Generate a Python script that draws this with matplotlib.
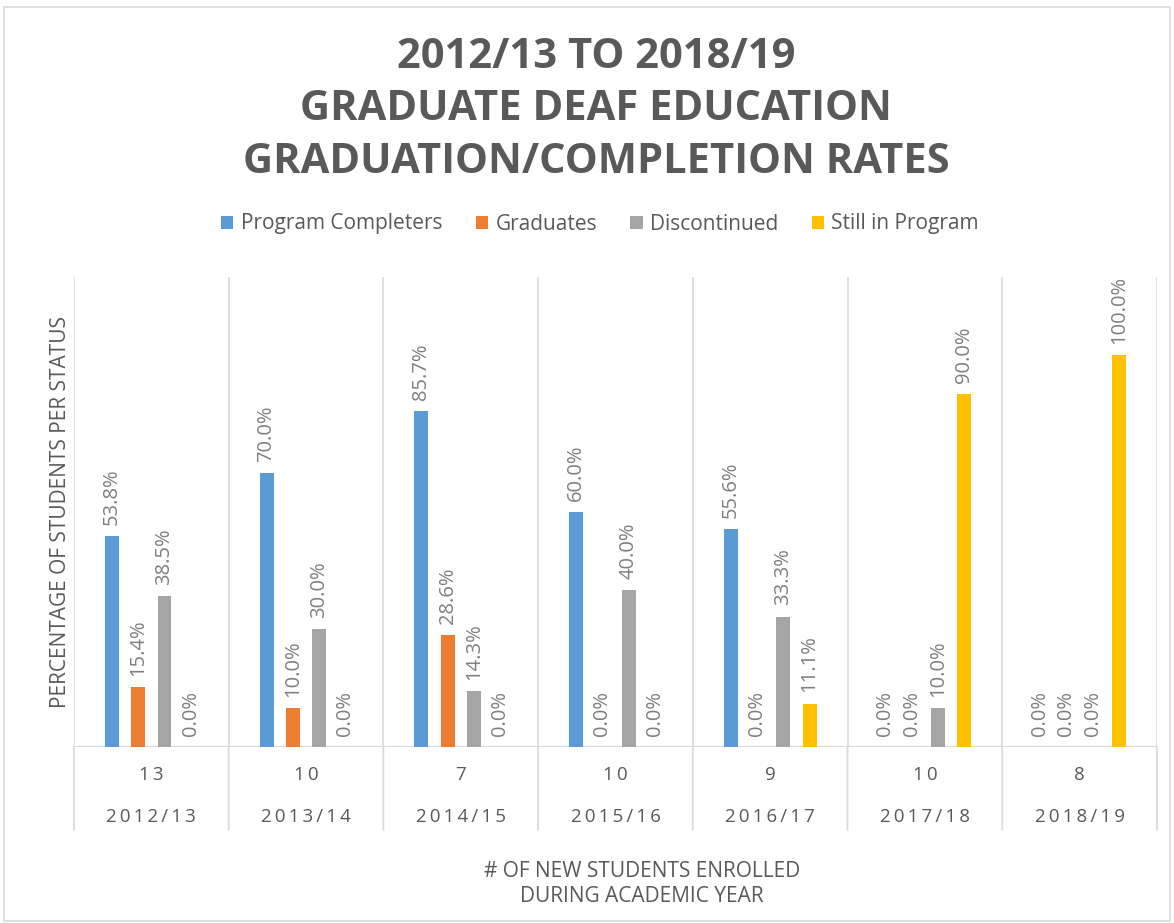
import matplotlib.pyplot as plt
from matplotlib.patches import Rectangle

plt.rcParams["font.family"] = ["Open Sans", "DejaVu Sans"]

years = ["2012/13", "2013/14", "2014/15", "2015/16", "2016/17", "2017/18", "2018/19"]
enrolled = [13, 10, 7, 10, 9, 10, 8]
series_names = ["Program Completers", "Graduates", "Discontinued", "Still in Program"]
completers = [53.8, 70.0, 85.7, 60.0, 55.6, 0.0, 0.0]
graduates = [15.4, 10.0, 28.6, 0.0, 0.0, 0.0, 0.0]
discontinued = [38.5, 30.0, 14.3, 40.0, 33.3, 10.0, 0.0]
still_in = [0.0, 0.0, 0.0, 0.0, 11.1, 90.0, 100.0]
colors = ["#5B9BD5", "#ED7D31", "#A5A5A5", "#FFC000"]

txt = "#595959"
grid = "#D9D9D9"


def spaced(s):
    return "\u2009".join(s)


fig = plt.figure(figsize=(11.74, 9.23), dpi=100)
fig.patches.append(Rectangle((0.003, 0.002), 0.994, 0.99, transform=fig.transFigure,
                             fill=False, edgecolor=grid, linewidth=1.2))
ax = fig.add_axes([0.063, 0.1907, 0.9225, 0.5093])

data = [completers, graduates, discontinued, still_in]
offsets = [-0.255, -0.085, 0.085, 0.255]
x = list(range(len(years)))
for vals, off, col, name in zip(data, offsets, colors, series_names):
    xs = [i + off for i in x]
    bars = ax.bar(xs, vals, width=0.09, color=col, label=name, zorder=3)
    for b, v in zip(bars, vals):
        ax.annotate("%.1f%%" % v, (b.get_x() + b.get_width() / 2, v),
                    xytext=(0, 8), textcoords="offset points", rotation=90,
                    ha="center", va="bottom", fontsize=14.5, color="#7F7F7F")

ax.set_xlim(-0.5, len(years) - 0.5)
ax.set_ylim(0, 120)
for s in ax.spines.values():
    s.set_visible(False)
ax.set_yticks([])
ax.set_xticks([])

# category separators, extended down through the two label rows
for i in range(len(years) + 1):
    ax.plot([i - 0.5, i - 0.5], [0, 120], color=grid, lw=1.2, zorder=1)
    ax.annotate("", xy=(i - 0.5, 0), xytext=(0, -83), textcoords="offset pixels",
                xycoords="data", arrowprops=dict(arrowstyle="-", color=grid, lw=1.2,
                                                 shrinkA=0, shrinkB=0))
ax.axhline(0, color=grid, lw=1.5, zorder=2)

for i in x:
    ax.annotate(spaced(str(enrolled[i])), (i, 0), xytext=(0, -28), textcoords="offset pixels",
                ha="center", va="center", fontsize=13.5, color=txt)
    ax.annotate(spaced(years[i]), (i, 0), xytext=(0, -70), textcoords="offset pixels",
                ha="center", va="center", fontsize=13.5, color=txt)

ax.set_ylabel("PERCENTAGE OF STUDENTS PER STATUS", fontsize=15, color=txt)
ax.yaxis.set_label_coords(-0.003, 0.5)

fig.text(0.547, 1 - 884 / 923, "# OF NEW STUDENTS ENROLLED\nDURING ACADEMIC YEAR",
         ha="center", va="center", fontsize=15, color=txt, linespacing=1.3)

fig.text(0.508, 1 - 110 / 923,
         "2012/13 TO 2018/19\nGRADUATE DEAF EDUCATION\nGRADUATION/COMPLETION RATES",
         ha="center", va="center", fontsize=30, fontweight="bold", color=txt, linespacing=1.36)

fig.legend(loc="center", bbox_to_anchor=(0.511, 1 - 224 / 923), ncol=4, frameon=False,
           fontsize=15, handlelength=0.6, handleheight=0.6, handletextpad=0.35,
           columnspacing=1.6, labelcolor=txt)

fig.savefig("out.png", dpi=100)
